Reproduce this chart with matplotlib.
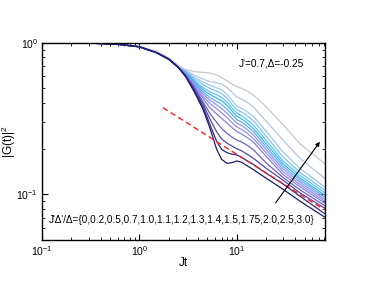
import numpy as np
import matplotlib
matplotlib.use("Agg")
import matplotlib.pyplot as plt

plt.rcParams['font.family'] = ['Liberation Sans', 'DejaVu Sans']
plt.rcParams['mathtext.fontset'] = 'custom'
plt.rcParams['mathtext.rm'] = 'Liberation Sans'

# time grid (Jt)
t = [0.1, 0.3, 0.6, 1.0, 1.5, 2.0, 2.5, 3.0, 3.7, 4.5, 5.3, 6.2, 7.0, 8.0, 9.0,
     10.0, 11.2, 12.5, 15.0, 20.0, 30.0, 45.0, 80.0]

ratios = [0, 0.2, 0.5, 0.7, 1.0, 1.1, 1.2, 1.3, 1.4, 1.5, 1.75, 2.0, 2.5, 3.0]

early = [1.0, 0.995, 0.977, 0.94, 0.86, 0.78, 0.69]
early_gray = [1.0, 0.996, 0.98, 0.95, 0.88, 0.80, 0.71]

g_0 = early_gray + [0.665, 0.645, 0.637, 0.632, 0.615, 0.59, 0.56, 0.533, 0.515, 0.5, 0.485, 0.45, 0.38, 0.288, 0.215, 0.16]
g_02 = early + [0.655, 0.61, 0.575, 0.555, 0.545, 0.535, 0.505, 0.47, 0.44, 0.425, 0.41, 0.375, 0.305, 0.228, 0.172, 0.128]
g_05 = early + [0.65, 0.59, 0.55, 0.525, 0.505, 0.49, 0.455, 0.415, 0.385, 0.37, 0.355, 0.325, 0.262, 0.19, 0.148, 0.112]
g_07 = early + [0.645, 0.575, 0.53, 0.50, 0.48, 0.463, 0.43, 0.39, 0.363, 0.35, 0.335, 0.305, 0.243, 0.176, 0.139, 0.107]
g_10 = early + [0.64, 0.56, 0.505, 0.475, 0.455, 0.436, 0.405, 0.37, 0.343, 0.33, 0.315, 0.285, 0.228, 0.166, 0.133, 0.1028]
g_11 = early + [0.635, 0.55, 0.49, 0.456, 0.432, 0.415, 0.385, 0.353, 0.328, 0.315, 0.30, 0.27, 0.217, 0.159, 0.128, 0.099]
g_12 = early + [0.63, 0.54, 0.475, 0.436, 0.41, 0.392, 0.363, 0.335, 0.312, 0.30, 0.286, 0.258, 0.207, 0.153, 0.124, 0.096]
g_13 = early + [0.625, 0.53, 0.46, 0.418, 0.39, 0.369, 0.342, 0.316, 0.296, 0.285, 0.272, 0.245, 0.198, 0.147, 0.12, 0.093]
g_14 = early + [0.62, 0.52, 0.445, 0.398, 0.368, 0.345, 0.32, 0.297, 0.279, 0.268, 0.256, 0.232, 0.189, 0.141, 0.116, 0.0903]
g_15 = early + [0.615, 0.51, 0.43, 0.373, 0.34, 0.317, 0.295, 0.275, 0.26, 0.25, 0.24, 0.22, 0.179, 0.135, 0.112, 0.0877]
g_175 = early + [0.61, 0.50, 0.41, 0.342, 0.30, 0.272, 0.252, 0.238, 0.228, 0.222, 0.213, 0.196, 0.162, 0.129, 0.107, 0.0844]
g_20 = early + [0.605, 0.49, 0.395, 0.315, 0.26, 0.232, 0.217, 0.208, 0.20, 0.194, 0.186, 0.172, 0.149, 0.124, 0.102, 0.0812]
g_25 = early + [0.60, 0.48, 0.38, 0.29, 0.225, 0.198, 0.188, 0.184, 0.182, 0.176, 0.168, 0.157, 0.138, 0.117, 0.097, 0.0747]
g_30 = early + [0.595, 0.47, 0.365, 0.275, 0.20, 0.17, 0.16, 0.162, 0.166, 0.163, 0.156, 0.145, 0.128, 0.108, 0.09, 0.0709]

curves = [g_0, g_02, g_05, g_07, g_10, g_11, g_12, g_13, g_14, g_15, g_175, g_20, g_25, g_30]

colors = ['#c8c8cc', '#b4c6e0', '#9ccaf0', '#80c4f2', '#5cc4f4', '#38b8f0',
          '#6aa8f0', '#8a98ee', '#9590e8', '#8680dc', '#6e62c6', '#5548ac',
          '#2c2c88', '#1c1c6c']

red_t = [1.75, 80.0]
red_y = [0.373, 0.079]

arrow_start = (25.2, 0.088)
arrow_end = (71.7, 0.222)

fig = plt.figure(figsize=(3.66, 2.83), dpi=100)
ax = fig.add_axes([0.115, 0.152, 0.773, 0.697])

for y, c in zip(curves, colors):
    ax.plot(t, y, color=c, lw=0.9)

ax.plot(red_t, red_y, color='#ff2020', lw=1.0, ls=(0, (4, 2.5)))

ax.annotate('', xy=arrow_end, xytext=arrow_start,
            arrowprops=dict(arrowstyle='-|>', color='black', lw=0.8,
                            mutation_scale=6, shrinkA=0, shrinkB=0))

ax.set_xscale('log')
ax.set_yscale('log')
ax.set_xlim(0.1, 81)
ax.set_ylim(0.05, 1.0)

ax.tick_params(which='both', direction='in', top=True, right=True, labelsize=7.5)
ax.tick_params(which='major', length=4, width=0.8, pad=3)
ax.tick_params(which='minor', length=2, width=0.6)
for s in ax.spines.values():
    s.set_linewidth(1.0)

ax.set_xlabel('Jt', fontsize=8.5)
ax.xaxis.set_label_coords(0.5, -0.085)
ax.set_ylabel(r'$\mathregular{|G(t)|^2}$', fontsize=8.5)
ax.yaxis.set_label_coords(-0.085, 0.5)

ax.text(0.925, 0.895, "J'=0.7,\u0394=-0.25", transform=ax.transAxes,
        ha='right', va='center', fontsize=7.3)
ax.text(0.025, 0.10, "J'\u0394'/\u0394={0,0.2,0.5,0.7,1.0,1.1,1.2,1.3,1.4,1.5,1.75,2.0,2.5,3.0}",
        transform=ax.transAxes, ha='left', va='center', fontsize=7.2)

fig.savefig('out.png', dpi=100)
